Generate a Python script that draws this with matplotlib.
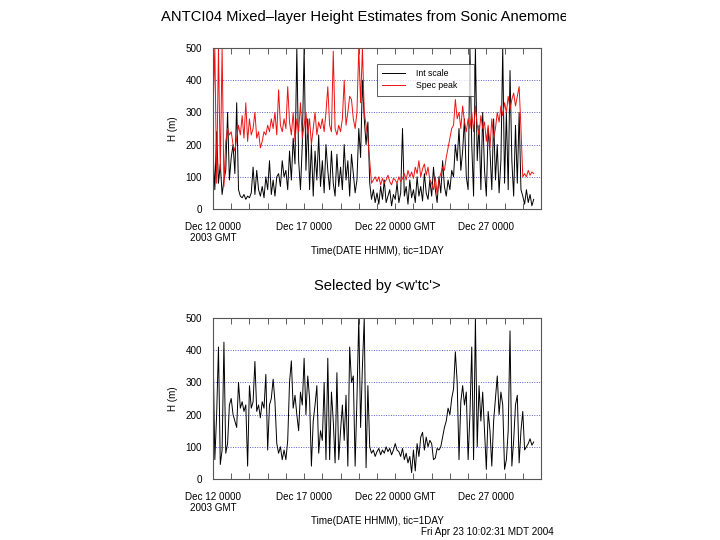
import matplotlib
matplotlib.use('Agg')
import matplotlib.pyplot as plt
import numpy as np
from matplotlib.transforms import Bbox, TransformedBbox

plt.rcParams['font.family'] = ['Liberation Sans', 'DejaVu Sans']

# samples every 0.1 day starting Dec 12 0000 GMT
STEP = 0.1

int_scale = [
    180, 60, 240, 80, 140, 45, 90, 120, 300, 90,
    160, 200, 110, 330, 60, 40, 35, 45, 30, 40,
    35, 50, 130, 45, 120, 60, 40, 70, 35, 100,
    60, 150, 45, 90, 40, 100, 110, 70, 150, 100,
    120, 60, 180, 90, 220, 140, 500, 150, 60, 200,
    500, 120, 280, 60, 200, 40, 180, 90, 230, 70,
    150, 50, 200, 120, 60, 180, 80, 40, 170, 70,
    130, 60, 200, 90, 150, 40, 170, 110, 50, 90,
    250, 160, 400, 280, 200, 270, 80, 30, 60, 20,
    50, 15, 70, 30, 90, 20, 40, 60, 10, 45,
    30, 80, 20, 50, 250, 40, 70, 15, 90, 35,
    60, 20, 100, 40, 70, 25, 110, 50, 30, 90,
    40, 130, 60, 20, 100, 50, 150, 70, 40, 90,
    60, 120, 100, 200, 150, 250, 120, 180, 280, 100,
    60, 500, 200, 40, 500, 150, 260, 60, 300, 120,
    40, 250, 180, 60, 280, 90, 200, 50, 150, 500,
    80, 300, 60, 430, 150, 40, 260, 80, 300, 60,
    40, 15, 60, 20, 45, 10, 30,
]

spec_peak = [
    300, 500, 80, 500, 120, 500, 70, 210, 250, 230,
    240, 200, 180, 220, 260, 230, 290, 220, 330, 210,
    280, 230, 250, 300, 220, 240, 190, 210, 240, 230,
    260, 240, 280, 250, 300, 230, 370, 260, 240, 280,
    250, 380, 270, 230, 300, 210, 280, 240, 330, 220,
    260, 300, 230, 280, 200, 250, 300, 230, 270, 250,
    280, 240, 300, 380, 260, 240, 490, 250, 230, 260,
    240, 280, 400, 260, 300, 350, 340, 280, 250, 300,
    500, 330, 500, 300, 260, 220, 150, 80, 90, 100,
    85, 100, 75, 95, 80, 90, 105, 85, 75, 95,
    90, 80, 100, 85, 95, 110, 90, 120, 100, 115,
    95, 130, 110, 150, 100, 125, 140, 105, 130, 90,
    80, 60, 100, 45, 90, 110, 130, 120, 160, 190,
    220, 250, 260, 340, 280, 300, 250, 320, 270, 240,
    280, 250, 300, 240, 320, 260, 230, 290, 250, 270,
    210, 260, 190, 280, 220, 250, 300, 270, 320, 290,
    330, 300, 350, 310, 340, 360, 320, 350, 380, 250,
    100, 110, 100, 120, 105, 115, 110,
]

selected = [
    420, 60, 200, 410, 45, 90, 425, 80, 110, 230,
    250, 200, 180, 160, 300, 220, 240, 210, 230, 40,
    290, 220, 240, 365, 210, 230, 190, 240, 220, 325,
    90, 230, 250, 310, 240, 110, 80, 100, 60, 90,
    60, 120, 300, 367, 220, 260, 200, 150, 270, 230,
    375, 200, 320, 250, 40, 180, 230, 290, 80, 150,
    120, 300, 60, 375, 60, 270, 180, 50, 330, 60,
    150, 230, 120, 260, 40, 410, 300, 320, 40, 250,
    500, 160, 350, 500, 35, 290, 100, 80, 90, 70,
    85, 95, 75, 90, 80, 100, 85, 95, 75, 90,
    110, 90, 85, 70, 95, 60, 80, 50, 70, 20,
    90, 25, 110, 70, 130, 145, 90, 130, 100, 120,
    110, 60, 65, 95, 90, 100, 130, 160, 180, 220,
    200, 250, 280, 395, 300, 60, 240, 290, 230, 270,
    60, 200, 410, 60, 500, 100, 290, 180, 270, 150,
    30, 210, 150, 40, 180, 250, 320, 200, 270, 230,
    30, 60, 150, 460, 40, 120, 230, 260, 50, 150,
    210, 90, 100, 110, 125, 105, 115,
]

day_labels = {0: 'Dec 12 0000\n2003 GMT', 5: 'Dec 17 0000',
              10: 'Dec 22 0000 GMT', 15: 'Dec 27 0000'}
n_days = 18
y_ticks = [0, 100, 200, 300, 400, 500]

TICK_FS = 7.1
TITLE_FS = 10.6


def style_axes(ax):
    ax.set_xlim(0, n_days)
    ax.set_ylim(0, 500)
    days = list(range(n_days + 1))
    ax.set_xticks(days)
    ax.set_xticklabels([day_labels.get(d, '') for d in days], fontsize=TICK_FS,
                       linespacing=1.15)
    ax.set_yticks(y_ticks)
    ax.set_yticklabels([str(v) for v in y_ticks], fontsize=TICK_FS)
    ax.tick_params(axis='x', direction='in', top=True, length=4, width=0.6,
                   pad=9, color='#444444')
    ax.tick_params(axis='y', direction='in', length=0, pad=8)
    ax.yaxis.grid(True, color='#5b5bd0', linestyle=(0, (1, 1.5)), linewidth=0.7)
    for s in ax.spines.values():
        s.set_color('#555555')
        s.set_linewidth(0.8)
    ax.set_xlabel('Time(DATE HHMM), tic=1DAY', fontsize=TICK_FS, va='center')
    ax.xaxis.set_label_coords(0.5, -0.262)
    ax.set_ylabel('H (m)', fontsize=TICK_FS, va='center')
    ax.yaxis.set_label_coords(-0.122, 0.5)


fig = plt.figure(figsize=(7.2, 5.4), dpi=100, facecolor='white')

t = np.arange(len(int_scale)) * STEP

ax1 = fig.add_axes([213 / 720, 1 - 209 / 540, 328 / 720, 161 / 540])
ax1.plot(t, int_scale, color='black', linewidth=0.7, label='Int scale')
ax1.plot(t, spec_peak, color='#ee1111', linewidth=0.7, label='Spec peak')
style_axes(ax1)
leg = ax1.legend(loc='upper left', bbox_to_anchor=(0.5, 0.5, 0.296, 0.4006),
                 mode='expand', borderaxespad=0, fontsize=6.3, frameon=True,
                 fancybox=False, handlelength=2.6, handletextpad=1.3,
                 borderpad=0.6, labelspacing=0.35)
leg.get_frame().set_edgecolor('#333333')
leg.get_frame().set_linewidth(0.7)

ax2 = fig.add_axes([213 / 720, 1 - 479 / 540, 328 / 720, 161 / 540])
ax2.plot(t, selected, color='black', linewidth=0.7)
style_axes(ax2)

title = fig.text(377 / 720, 1 - 17 / 540,
                 'ANTCI04 Mixed\u2013layer Height Estimates from Sonic Anemometers',
                 ha='center', va='center', fontsize=TITLE_FS)
title.set_clip_box(TransformedBbox(Bbox([[0, 0], [566 / 720, 1]]), fig.transFigure))
title.set_clip_on(True)

fig.text(377 / 720, 1 - 286 / 540, "Selected by <w'tc'>", ha='center',
         va='center', fontsize=TITLE_FS)
fig.text(487 / 720, 1 - 532 / 540, 'Fri Apr 23 10:02:31 MDT 2004', ha='center',
         va='center', fontsize=TICK_FS)

fig.savefig('out.png', dpi=100, facecolor='white')
